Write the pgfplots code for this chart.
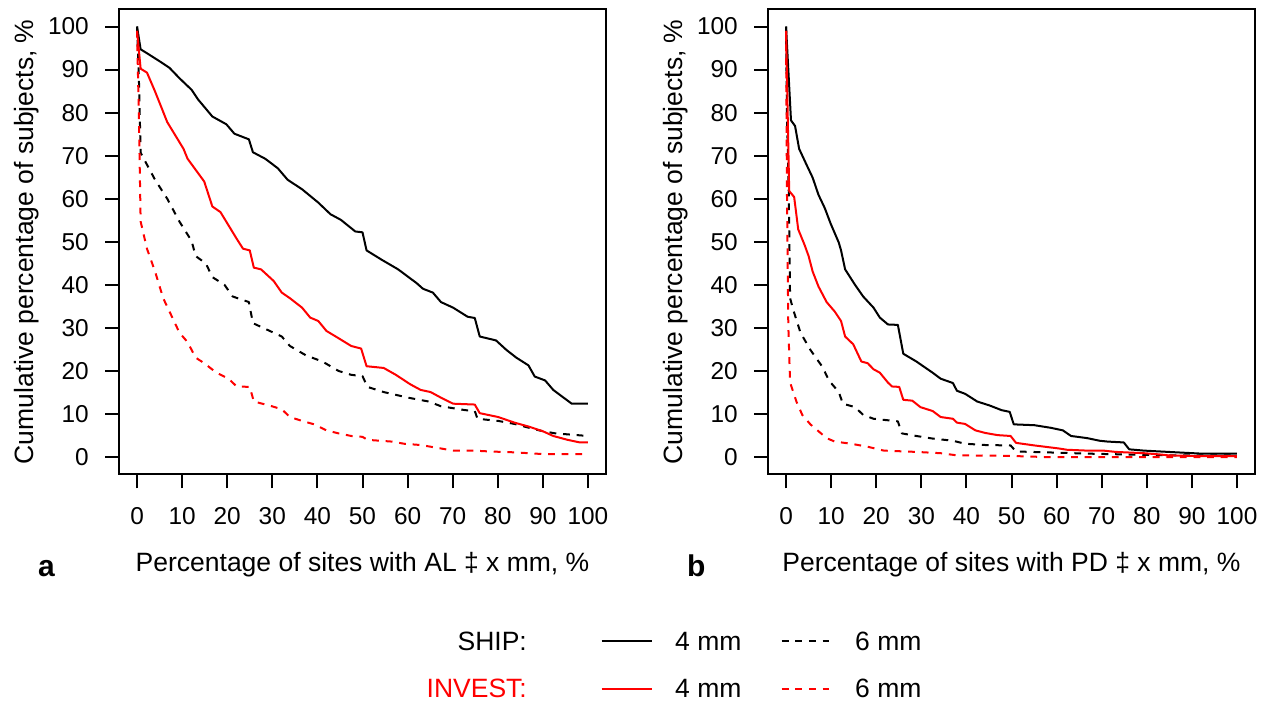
\documentclass[border=0pt]{standalone}
\usepackage{fontspec}
\setmainfont{Liberation Sans}
\usepackage{pgfplots}
\pgfplotsset{compat=1.18}

\newcommand{\ticksize}{\fontsize{24.4}{29}\selectfont}
\newcommand{\labsize}{\fontsize{26.5}{32}\selectfont}

\tikzset{
  s4/.style={black, line width=2pt, line join=round},
  s6/.style={black, line width=2pt, line join=round, dash pattern=on 6.8pt off 6.8pt},
  i4/.style={red, line width=2pt, line join=round},
  i6/.style={red, line width=2pt, line join=round, dash pattern=on 6.8pt off 6.8pt},
}

\pgfplotsset{
  rpanel/.style={
    width=487pt, height=465pt, scale only axis,
    xmin=-4, xmax=104, ymin=-4, ymax=104,
    xtick={0,10,...,100}, ytick={0,10,...,100},
    tick align=outside, tick pos=left,
    major tick length=14pt,
    axis line style={line width=2pt},
    major tick style={line width=2pt, black},
    /pgf/number format/assume math mode=true,
    tick label style={font=\ticksize},
    xticklabel style={anchor=north, inner sep=0pt, yshift=-19pt},
    yticklabel style={anchor=east, inner sep=0pt, xshift=-16pt},
    every axis x label/.style={at={(axis description cs:0.5,-0.2095)}, anchor=base, font=\labsize},
    every axis y label/.style={at={(axis description cs:-0.176,0.5)}, rotate=90, anchor=base, font=\labsize},
    ylabel={Cumulative percentage of subjects, \%},
  },
}

\begin{document}
\begin{tikzpicture}
\useasboundingbox (0,0) rectangle (1277pt,702pt);

% panel a: attachment loss
\begin{axis}[rpanel, at={(119pt,227.7pt)}, anchor=south west,
  xlabel={Percentage of sites with AL ‡ x mm, \%}]
\addplot[s4] coordinates {
(0,100)(0.8,94.7)(2.2,93.8)(4.9,92)(7.2,90.4)(9.4,88)(12.1,85.3)(13.5,83.1)
(16.7,79.1)(19.8,77.3)(21.6,75.1)(24.8,73.8)(25.7,70.8)(28.4,69.3)(31.2,67.1)
(33.4,64.4)(36.6,62.2)(40.2,59.1)(42.9,56.4)(45.2,55.1)(48.4,52.4)(50,52.2)
(50.9,48)(54.3,45.8)(57.9,43.6)(62,40.4)(63.4,39.1)(65.6,38.2)(67.4,36)
(70.1,34.7)(73.3,32.6)(74.9,32.3)(76,28)(79.6,27.1)(81.9,24.9)(84.1,23.1)
(86.8,21.3)(88.2,18.7)(90.5,17.8)(92.3,15.6)(94.6,13.8)(96.4,12.4)(100,12.4)};
\addplot[s6] coordinates {
(0,100)(0.4,88.4)(0.8,70.7)(1.7,68.9)(4,64.4)(6.7,60)(9.4,54.7)(12.1,50.2)
(13,46.7)(15.3,44.9)(16.7,41.8)(19.4,40)(21.2,37.3)(24.8,36)(25.7,31.1)
(28.4,29.8)(32.1,28)(33.9,25.8)(37.5,23.6)(41.1,22.2)(44.7,20)(47.5,19.1)
(50,18.8)(51.1,16.3)(54.7,15.1)(60.1,13.8)(64.7,12.9)(67.4,11.8)(72.8,10.9)
(74.9,10.7)(75.5,8.9)(80.1,8.4)(83.7,7.7)(87.3,6.7)(90,6)(92.8,5.5)(96.4,5.2)(100,4.9)};
\addplot[i4] coordinates {
(0,99)(0.8,90.2)(2.2,89.3)(4,84.9)(6.7,77.8)(10.3,71.6)(11.2,69.3)(14.9,64)
(16.7,58.2)(18.5,56.9)(20.3,53.8)(22.1,50.7)(23.5,48.4)(25,48)(25.9,44)
(27.5,43.6)(30.3,40.9)(32.1,38.2)(33.9,36.9)(36.6,34.7)(38.4,32.4)(40.2,31.6)
(42,29.3)(44.7,27.6)(47.5,25.8)(49.7,25.2)(50.9,21.1)(54.7,20.7)(57.4,19.1)
(60.6,16.9)(62.9,15.6)(65.1,15.1)(67.4,13.8)(70.1,12.4)(74.9,12.2)(76,10.2)
(80.1,9.3)(83.7,8)(86.8,7.1)(90,6)(92.3,4.9)(95.5,4)(98.2,3.4)(100,3.4)};
\addplot[i6] coordinates {
(0,99)(0.4,79.6)(0.8,54.7)(2.2,48.4)(4,43.1)(5.8,36.9)(7.2,33.8)(9.4,28.9)
(11.2,26.7)(13,23.1)(14.9,21.8)(17.6,19.6)(20.3,18.2)(22.1,16.4)(25,16.3)
(25.9,12.9)(29.3,12)(32.1,11.1)(33.9,9.3)(36.6,8.4)(39.3,7.6)(42,6.2)
(44.7,5.5)(47.5,4.9)(50,4.7)(51.1,4)(56.5,3.6)(59.2,3.1)(62.9,2.8)(67.4,2)
(70.1,1.5)(74.6,1.5)(78.3,1.3)(83.7,1.1)(90,0.7)(100,0.7)};
\end{axis}

% panel b: probing depth
\begin{axis}[rpanel, at={(768pt,227.7pt)}, anchor=south west,
  xlabel={Percentage of sites with PD ‡ x mm, \%}]
\addplot[s4] coordinates {
(0,100)(1.1,78.2)(2,76.9)(2.9,71.6)(4.5,68)(5.9,64.9)(7.2,60.9)(8.6,57.8)
(9.9,54.2)(11.7,49.8)(12.2,48)(13.1,43.6)(15.3,40)(17.1,37.3)(19.4,34.7)
(20.8,32.4)(22.6,30.8)(24.8,30.7)(26,24)(28.9,22.2)(30.7,20.9)(32.5,19.6)
(34.3,18.2)(37,17.2)(37.9,15.4)(39.7,14.7)(42.4,12.9)(45.1,12)(47.8,10.9)
(49.6,10.5)(50.5,7.6)(55.1,7.4)(58.7,6.8)(61.4,6.2)(63.2,4.9)(66.8,4.4)
(69.5,3.8)(71.3,3.6)(74.9,3.4)(76.1,1.8)(79.4,1.5)(84.8,1.2)(92.1,0.8)(100,0.8)};
\addplot[s6] coordinates {
(0,100)(0.2,79.6)(0.6,61.8)(0.9,36.9)(1.6,34.2)(3.2,28.9)(5.4,24.9)(8.1,20.9)
(9.5,17.8)(11.7,15.1)(12.6,12.4)(15.3,11.6)(17.1,9.8)(19.4,8.9)(24.8,8.3)
(25.7,5.5)(28.9,4.9)(32.5,4.3)(37,3.8)(39.7,3.1)(44.2,2.8)(49.8,2.7)(51,1.3)
(57.8,1.1)(66.8,0.8)(75.8,0.6)(84.8,0.4)(100,0.4)};
\addplot[i4] coordinates {
(0,99)(0.7,61.8)(1.8,60.4)(2.7,52.9)(4.1,49.3)(5,46.7)(5.9,43.1)(7.2,39.6)
(9,36)(10.8,33.8)(12.2,31.6)(13.1,28)(14.9,26.2)(16.7,22.2)(18.1,21.8)
(19.4,20.4)(20.8,19.6)(22.6,17.3)(23.5,16.4)(25.1,16.3)(26,13.3)(28,13.1)
(29.8,11.6)(32.5,10.7)(34.3,9.3)(37,8.9)(37.9,8)(39.7,7.7)(42,6.2)(44.2,5.6)
(46.9,5.1)(49.8,4.9)(51,3.3)(55.1,2.7)(60.5,2)(62.3,1.7)(66.8,1.5)(70.4,1.5)
(73.1,1.2)(79.4,0.9)(83,0.6)(84.8,0.4)(92.1,0.2)(100,0.2)};
\addplot[i6] coordinates {
(0,99)(0.2,61.8)(0.5,30.7)(0.9,17.3)(2.3,12.9)(3.6,9.8)(5.4,7.6)(7.2,6)
(9,4.4)(10.8,3.6)(14.4,3.1)(18.1,2.4)(21.7,1.5)(28.9,1.2)(34.3,0.9)(37.9,0.4)
(48.7,0.3)(57.8,0)(100,0)};
\end{axis}

% panel letters
\node[font=\fontsize{30}{36}\selectfont\bfseries, anchor=base] at (46.5pt,125.3pt) {a};
\node[font=\fontsize{30}{36}\selectfont\bfseries, anchor=base] at (696.3pt,125.3pt) {b};

% legend
\node[font=\labsize, anchor=base east, inner sep=0pt] at (527pt,52pt) {SHIP:};
\node[font=\labsize, anchor=base east, inner sep=0pt, text=red] at (527pt,5pt) {INVEST:};
\draw[s4] (601.7pt,61pt) -- (651.7pt,61pt);
\draw[s6] (781.7pt,61pt) -- (829.3pt,61pt);
\draw[i4] (601.7pt,12.7pt) -- (651.7pt,12.7pt);
\draw[i6] (781.7pt,12.7pt) -- (829.3pt,12.7pt);
\node[font=\labsize, anchor=base west, inner sep=0pt] at (675pt,52pt) {4 mm};
\node[font=\labsize, anchor=base west, inner sep=0pt] at (855pt,52pt) {6 mm};
\node[font=\labsize, anchor=base west, inner sep=0pt] at (675pt,5pt) {4 mm};
\node[font=\labsize, anchor=base west, inner sep=0pt] at (855pt,5pt) {6 mm};
\end{tikzpicture}
\end{document}
